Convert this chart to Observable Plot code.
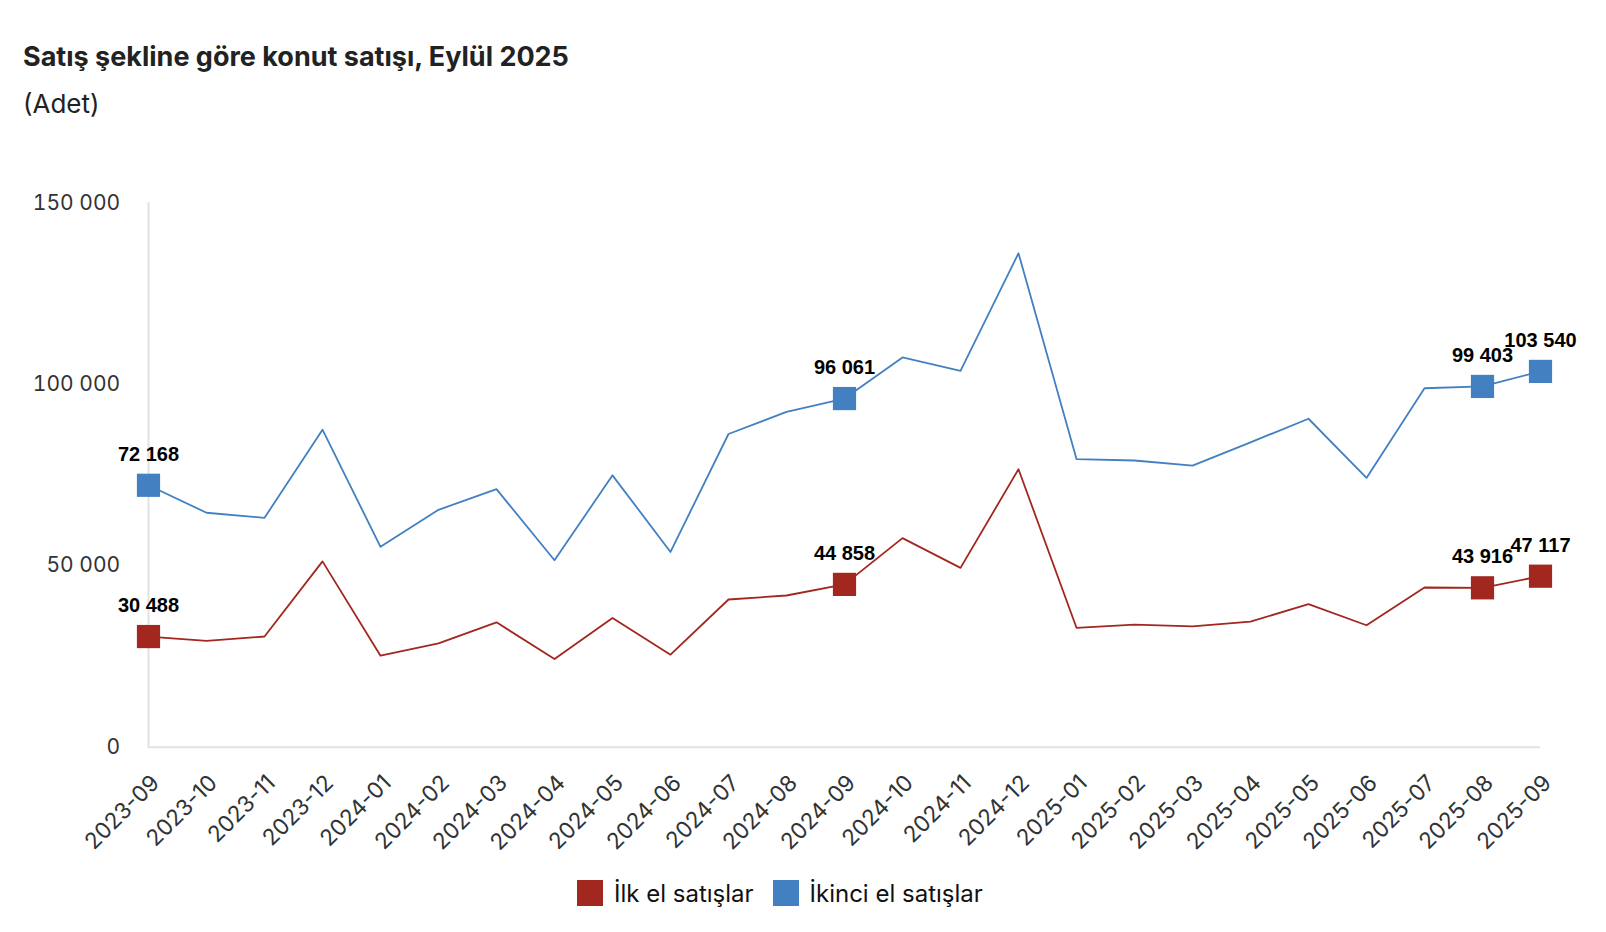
<!DOCTYPE html>
<html>
<head>
<meta charset="utf-8">
<script src="https://cdn.jsdelivr.net/npm/d3@7"></script>
<script src="https://cdn.jsdelivr.net/npm/@observablehq/plot@0.6"></script>
<style>
  body { margin: 0; background: #fff; }
  #wrap { position: relative; width: 1606px; height: 932px; font-family: Inter, "Noto Sans", sans-serif; color: #222; }
  #title { position: absolute; left: 23px; top: 40px; font-size: 27px; font-weight: 700; white-space: nowrap; }
  #sub { position: absolute; left: 23px; top: 88px; font-size: 26px; white-space: nowrap; }
  #chart { position: absolute; left: 0; top: 180px; }
  #legend { position: absolute; left: 577px; top: 880px; height: 26px; display: flex; align-items: center; font-size: 24px; color: #111; }
  .item { display: flex; align-items: center; margin-right: 19px; }
  .sw { width: 26px; height: 26px; margin-right: 11px; }
</style>
</head>
<body>
<div id="wrap">
  <div id="title">Satış şekline göre konut satışı, Eylül 2025</div>
  <div id="sub">(Adet)</div>
  <div id="chart"></div>
  <div id="legend"></div>
</div>
<script>
const months = ["2023-09","2023-10","2023-11","2023-12","2024-01","2024-02","2024-03","2024-04","2024-05","2024-06","2024-07","2024-08","2024-09","2024-10","2024-11","2024-12","2025-01","2025-02","2025-03","2025-04","2025-05","2025-06","2025-07","2025-08","2025-09"];
const ilkEl = [30488, 29300, 30500, 51200, 25200, 28600, 34400, 24300, 35600, 25500, 40700, 41800, 44858, 57600, 49400, 76600, 32900, 33800, 33300, 34600, 39400, 33600, 44000, 43916, 47117];
const ikinciEl = [72168, 64600, 63200, 87500, 55200, 65400, 71100, 51500, 74900, 53800, 86300, 92400, 96061, 107400, 103700, 136100, 79400, 79000, 77600, 84000, 90500, 74200, 98900, 99403, 103540];
const seriesNames = ["İlk el satışlar", "İkinci el satışlar"];
const seriesColors = ["#a1271f", "#4380c2"];
const labeledMonths = ["2023-09", "2024-09", "2025-08", "2025-09"];
const yTicks = [0, 50000, 100000, 150000];

const fmt = d => d3.format(",")(d).replace(/,/g, " ");

const data = [];
months.forEach((m, i) => {
  data.push({month: m, value: ilkEl[i], series: seriesNames[0]});
  data.push({month: m, value: ikinciEl[i], series: seriesNames[1]});
});
const labeled = data.filter(d => labeledMonths.includes(d.month));

const chart = Plot.plot({
  width: 1606,
  height: 700,
  marginLeft: 147.7,
  marginRight: 66,
  marginTop: 22.3,
  marginBottom: 133.3,
  style: {fontFamily: "Inter, sans-serif", fontSize: "21px", color: "#333", background: "transparent"},
  x: {type: "point", domain: months, padding: 0},
  y: {domain: [0, 150000]},
  color: {domain: seriesNames, range: seriesColors},
  marks: [
    Plot.axisY({ticks: yTicks, tickSize: 0, tickPadding: 28, tickFormat: fmt, label: null, fontSize: 21}),
    Plot.axisX({tickRotate: -45, tickSize: 0, tickPadding: 32, dx: 7, label: null, fontSize: 22.5}),
    Plot.ruleY([0], {stroke: "#e2e2e2", strokeWidth: 2}),
    Plot.ruleX([months[0]], {y1: 0, y2: 150000, stroke: "#e2e2e2", strokeWidth: 2}),
    Plot.line(data, {x: "month", y: "value", z: "series", stroke: "series", strokeWidth: 1.8}),
    Plot.dot(labeled, {x: "month", y: "value", fill: "series", symbol: "square", r: 13.1, stroke: "none"}),
    Plot.text(labeled, {x: "month", y: "value", text: d => fmt(d.value), dy: -31, fill: "#000", fontWeight: "bold", fontSize: 20, fontFamily: "'Liberation Sans', Arial, sans-serif"})
  ]
});
document.getElementById("chart").appendChild(chart);

const legend = document.getElementById("legend");
seriesNames.forEach((name, i) => {
  const item = document.createElement("div");
  item.className = "item";
  const sw = document.createElement("div");
  sw.className = "sw";
  sw.style.background = seriesColors[i];
  const t = document.createElement("span");
  t.textContent = name;
  item.appendChild(sw);
  item.appendChild(t);
  legend.appendChild(item);
});
</script>
</body>
</html>
